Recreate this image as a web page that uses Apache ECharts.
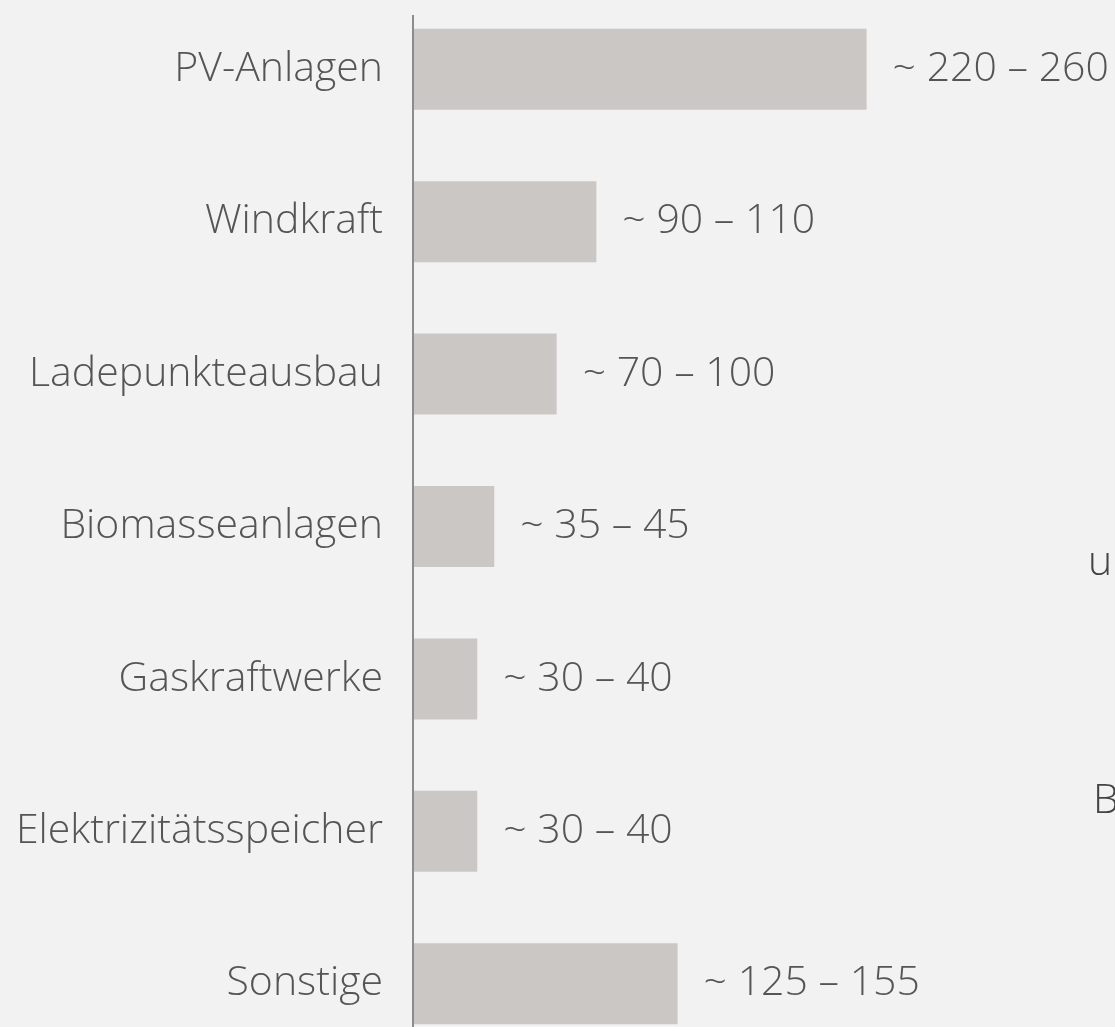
<!DOCTYPE html>
<html><head><meta charset="utf-8">
<style>html,body{margin:0;padding:0;background:#f2f2f2;overflow:hidden;width:1115px;height:1027px;}#c{position:absolute;left:0;top:-7px;width:1115px;height:1067px;}</style>
<script src="https://cdn.jsdelivr.net/npm/echarts@6/dist/echarts.min.js"></script>
</head><body><div id="c"></div>
<script>
const categories = ["PV-Anlagen","Windkraft","Ladepunkteausbau","Biomasseanlagen","Gaskraftwerke","Elektrizitätsspeicher","Sonstige"];
const values = [240, 97, 76, 43, 34, 34, 140];
const valueLabels = ["~ 220 – 260","~ 90 – 110","~ 70 – 100","~ 35 – 45","~ 30 – 40","~ 30 – 40","~ 125 – 155"];

const FONT = '"Open Sans", sans-serif';
const chart = echarts.init(document.getElementById('c'), null, {renderer:'canvas'});
chart.setOption({
  backgroundColor: '#f2f2f2',
  animation: false,
  grid: {left: 413, right: 135, top: 0, bottom: 0, containLabel: false},
  xAxis: {type:'value', min:0, max:300, show:false},
  yAxis: {
    type:'category', data: categories, inverse: true,
    axisLine: {show:false}, axisTick:{show:false},
    axisLabel: {margin: 30, color:'#555555', fontFamily: FONT, fontWeight: 300, fontSize: 41}
  },
  series: [{
    type:'bar', data: values, barWidth: 81,
    itemStyle: {color:'#cbc7c5'},
    label: {show:true, position:'right', distance: 26, color:'#555555', fontFamily: FONT, fontWeight: 300, fontSize: 41,
      formatter: p => valueLabels[p.dataIndex]}
  }],
  graphic: [
    {type:'rect', shape:{x:412, y:22, width:2, height:1045}, style:{fill:'#8c8c8c'}, z:100},
    {type:'text', left:1088, top:550, style:{text:'und', fill:'#444', font:'300 41px "Open Sans", sans-serif'}},
    {type:'text', left:1093, top:788, style:{text:'Be', fill:'#444', font:'300 41px "Open Sans", sans-serif'}}
  ]
});
</script></body></html>
